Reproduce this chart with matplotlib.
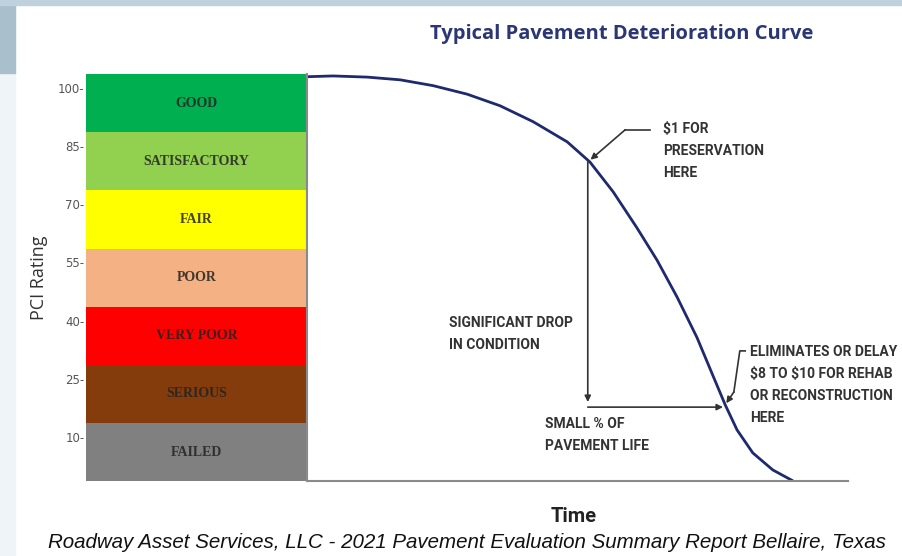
import matplotlib
matplotlib.use("Agg")
import numpy as np
from matplotlib import pyplot as plt
from matplotlib.patches import Rectangle

# PCI condition bands (upper threshold of each band)
band_names = ["GOOD", "SATISFACTORY", "FAIR", "POOR", "VERY POOR", "SERIOUS", "FAILED"]
band_tops = [100, 85, 70, 55, 40, 25, 10]
band_colors = ["#00b050", "#92d050", "#ffff00", "#f4b183", "#ff0000", "#843c0c", "#808080"]

# deterioration curve (time in % of life, PCI)
time_pts = [0, 4.8, 11.1, 17.2, 23.3, 29.6, 35.7, 41.8, 48.1, 52.3, 56.6, 61.0,
            64.7, 68.4, 72.1, 74.5, 77.3, 79.5, 82.4, 86.1, 89.8]
pci_pts = [102.9, 103.1, 102.8, 102.1, 100.6, 98.4, 95.4, 91.3, 86.1, 80.9, 73.2, 63.9,
           55.6, 46.1, 35.6, 27.6, 18.3, 11.8, 5.9, 1.5, -1.3]

preserve_pt = (51.9, 81.3)
rehab_pt = (76.9, 17.7)

W, H = 902, 556


def px(x, y):
    return x / W, 1 - y / H


fig = plt.figure(figsize=(W / 100, H / 100), dpi=100)
fig.patch.set_facecolor("white")

# frame decoration
fig.patches.append(Rectangle(px(0, H), 15 / W, 1, transform=fig.transFigure, color="#eef4f7", zorder=0))
fig.patches.append(Rectangle(px(0, 73), 15 / W, 73 / H, transform=fig.transFigure, color="#a9bfcc", zorder=0))
fig.patches.append(Rectangle(px(0, 5), 1, 5 / H, transform=fig.transFigure, color="#bfd1dc", zorder=0))

ylim = (-1.35, 103.6)
shift = 3.6

ax_b = fig.add_axes([86 / W, 75 / H, (307 - 86) / W, 407 / H])
for name, top, col in zip(band_names, band_tops, band_colors):
    ax_b.bar(0.5, 15, bottom=top - 15 + shift, width=1, color=col, edgecolor="none")
    ax_b.text(0.5, top - 7.5 + shift, name, ha="center", va="center",
              fontsize=10, fontweight="bold", family="Liberation Serif", color="#222222", alpha=0.85)
ax_b.set_xlim(0, 1)
ax_b.set_ylim(*ylim)
ax_b.set_xticks([])
ax_b.set_yticks(band_tops)
ax_b.set_yticklabels([f"{v}-" for v in band_tops], fontsize=8.5, color="#555555")
ax_b.tick_params(axis="y", length=0, pad=1)
for s in ax_b.spines.values():
    s.set_visible(False)
ax_b.set_ylabel("PCI Rating", fontsize=13, family="Open Sans", color="#333333", labelpad=7)

ax = fig.add_axes([307 / W, 75 / H, (848 - 307) / W, 407 / H])
ax.plot(time_pts, pci_pts, color="#1f2a6e", lw=2.0, solid_capstyle="round", solid_joinstyle="round")
ax.set_xlim(0, 100)
ax.set_ylim(*ylim)
ax.set_xticks([])
ax.set_yticks([])
for k in ("top", "right"):
    ax.spines[k].set_visible(False)
for k in ("left", "bottom"):
    ax.spines[k].set_color("#8a8a8a")
    ax.spines[k].set_linewidth(1.5)

arrow = dict(arrowstyle="-|>", color="#333333", lw=1.2, mutation_scale=9, shrinkA=0, shrinkB=0)
# drop in condition then small share of life
ax.annotate("", xy=(preserve_pt[0], 19.0), xytext=preserve_pt, arrowprops=arrow)
ax.annotate("", xy=rehab_pt, xytext=(preserve_pt[0], rehab_pt[1]), arrowprops=arrow)
# leader for $1 note
ax.plot([63.4, 58.8], [89.2, 89.2], color="#333333", lw=1.2)
ax.annotate("", xy=(preserve_pt[0] + 0.5, preserve_pt[1] + 0.2), xytext=(58.8, 89.2), arrowprops=arrow)
# bracket for rehab note
ax.plot([81.0, 80.0, 78.9], [32.2, 32.2, 21.6], color="#333333", lw=1.2)
ax.annotate("", xy=(rehab_pt[0] + 0.6, rehab_pt[1] + 1.0), xytext=(78.9, 21.6), arrowprops=arrow)

note = dict(fontsize=10, fontweight="bold", family="Roboto",
            color="#333333", va="top", ha="left", linespacing=1.72, parse_math=False)
fig.text(*px(663, 122), "$1 FOR\nPRESERVATION\nHERE", **note)
fig.text(*px(449, 316), "SIGNIFICANT DROP\nIN CONDITION", **note)
fig.text(*px(545, 417), "SMALL % OF\nPAVEMENT LIFE", **note)
fig.text(*px(750, 345), "ELIMINATES OR DELAY\n$8 TO $10 FOR REHAB\nOR RECONSTRUCTION\nHERE", **note)

fig.text(*px(622, 34), "Typical Pavement Deterioration Curve", ha="center", va="center",
         fontsize=14.5, fontweight="bold", family="Open Sans", color="#2b3674")
fig.text(*px(574, 517), "Time", ha="center", va="center", fontsize=14.5, fontweight="bold",
         family="Roboto", color="#222222")
fig.text(*px(467, 543), "Roadway Asset Services, LLC - 2021 Pavement Evaluation Summary Report Bellaire, Texas",
         ha="center", va="center", fontsize=14.8, style="italic", family="Liberation Sans", color="#111111")

fig.savefig("out.png", dpi=100)
